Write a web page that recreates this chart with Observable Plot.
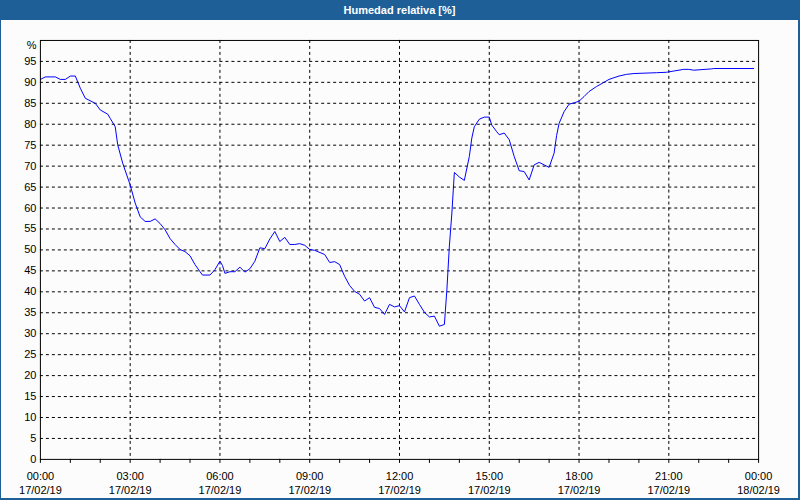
<!DOCTYPE html>
<html><head><meta charset="utf-8">
<script src="https://cdn.jsdelivr.net/npm/d3@7"></script>
<script src="https://cdn.jsdelivr.net/npm/@observablehq/plot@0.6"></script>
<style>
html,body{margin:0;padding:0;background:#fff;}
#win{position:relative;width:800px;height:500px;box-sizing:border-box;background:#fbfcfb;border-left:1px solid #1f5f98;border-right:2px solid #1f5f98;border-bottom:2px solid #1f5f98;overflow:hidden;font-family:"Liberation Sans",Arial,sans-serif;}
#title{height:20px;background:#1f5f98;color:#fff;font-weight:bold;font-size:11px;line-height:20px;text-align:center;}
#chart{position:absolute;left:-1px;top:20px;}
</style>
</head><body>
<div id="win"><div id="title">Humedad relativa [%]</div><div id="chart"></div></div>
<script>
const title = "Humedad relativa [%]";
const day = "2019-02-17";
const times = ["00:00","00:10","00:30","00:40","00:50","01:00","01:10","01:20","01:30","01:50",
"02:00","02:15","02:20","02:30","02:35","02:45","03:00","03:10","03:20","03:30",
"03:40","03:50","04:00","04:10","04:20","04:30","04:40","04:50","05:00","05:10",
"05:20","05:25","05:40","05:50","06:00","06:05","06:10","06:20","06:30","06:40",
"06:50","07:00","07:10","07:20","07:30","07:40","07:50","08:00","08:10","08:20",
"08:30","08:40","08:50","09:00","09:10","09:30","09:40","09:50","10:00","10:10",
"10:20","10:30","10:40","10:50","11:00","11:10","11:20","11:30","11:40","11:50",
"12:00","12:10","12:20","12:30","12:40","12:50","13:00","13:10","13:20","13:30",
"13:35","13:40","13:45","13:50","14:00","14:10","14:20","14:25","14:30","14:40",
"14:50","15:00","15:05","15:15","15:20","15:30","15:40","15:50","16:00","16:10",
"16:20","16:30","16:40","16:50","17:00","17:10","17:15","17:20","17:30","17:40",
"17:50","18:00","18:10","18:20","18:35","18:50","19:00","19:20","19:35","19:50",
"20:35","20:55","21:10","21:30","21:40","21:50","22:25","22:30","23:50"];
const humidity = [90.7,91.3,91.3,90.7,90.7,91.5,91.5,88.6,86.2,85.0,
83.4,82.4,81.4,79.4,75.1,70.7,65.5,61.2,57.9,56.8,
56.8,57.4,56.3,54.8,52.7,51.3,50.1,49.6,48.6,46.5,
44.8,44.0,44.0,45.3,47.3,46.3,44.4,44.8,44.8,45.9,
44.7,45.5,47.3,50.5,50.3,52.6,54.4,52.0,53.0,51.3,
51.3,51.5,51.1,50.1,49.9,48.9,47.0,47.2,46.5,43.7,
41.5,40.1,39.4,37.8,38.6,36.3,36.0,34.6,37.0,36.4,
36.7,35.2,38.6,39.0,37.0,35.1,34.0,34.2,31.8,32.2,
40.5,50.9,58.8,68.5,67.4,66.6,72.3,76.7,79.4,81.2,
81.7,81.7,79.8,78.2,77.5,77.9,76.3,72.3,68.9,68.7,
66.7,70.3,70.9,70.3,69.7,73.1,77.3,80.2,83.0,84.8,
85.1,85.5,86.6,87.8,89.0,90.0,90.7,91.5,91.9,92.1,
92.3,92.4,92.7,93.1,93.1,92.9,93.2,93.3,93.3];
const yTicks = [0,5,10,15,20,25,30,35,40,45,50,55,60,65,70,75,80,85,90,95];
const yGrid = [5,10,15,20,25,30,35,40,45,50,55,60,65,70,75,80,85,90,95];
const xLabelHours = [0,3,6,9,12,15,18,21,24];
const xGridHours = [3,6,9,12,15,18,21];
const unitLabel = "%";

const parse = d3.utcParse("%Y-%m-%d %H:%M");
const t0 = parse(day + " 00:00");
const hourDate = h => new Date(t0.getTime() + h * 3600000);
const data = times.map((t, i) => ({t: parse(day + " " + t), v: humidity[i]}));
const hourTicks = d3.range(0, 25).map(hourDate);
const fmtT = d3.utcFormat("%H:%M"), fmtD = d3.utcFormat("%d/%m/%y");
const labelSet = new Set(xLabelHours.map(h => hourDate(h).getTime()));

const chart = Plot.plot({
  width: 800, height: 478,
  marginTop: 20, marginBottom: 38, marginLeft: 40, marginRight: 40,
  style: {background: "transparent", fontFamily: "'Liberation Sans', Arial, sans-serif", fontSize: "11px", color: "#000"},
  x: {type: "utc", domain: [hourDate(0), hourDate(24)]},
  y: {domain: [0, 100]},
  marks: [
    Plot.ruleY(yGrid, {stroke: "#000", strokeDasharray: "3,3", strokeOpacity: 1}),
    Plot.ruleX(xGridHours.map(hourDate), {stroke: "#000", strokeDasharray: "3,3", strokeOpacity: 1}),
    Plot.line(data, {x: "t", y: "v", stroke: "#0000ff", strokeWidth: 1}),
    Plot.frame({stroke: "#000", strokeOpacity: 1}),
    Plot.axisY({ticks: yTicks, tickSize: 0, tickPadding: 4, label: null, fontSize: 11, fill: "#000"}),
    Plot.text([unitLabel], {x: () => hourDate(0), y: () => 100, text: d => d, textAnchor: "end", dx: -4, dy: 5, fontSize: 11, fill: "#000"}),
    Plot.axisX({ticks: hourTicks, tickSize: 4, tickPadding: 7, label: null, fontSize: 11, fill: "#000", stroke: "#000", lineHeight: 1.27,
      tickFormat: d => labelSet.has(d.getTime()) ? fmtT(d) + "\n" + fmtD(d) : ""})
  ]
});
document.getElementById("chart").appendChild(chart);
</script>
</body></html>
